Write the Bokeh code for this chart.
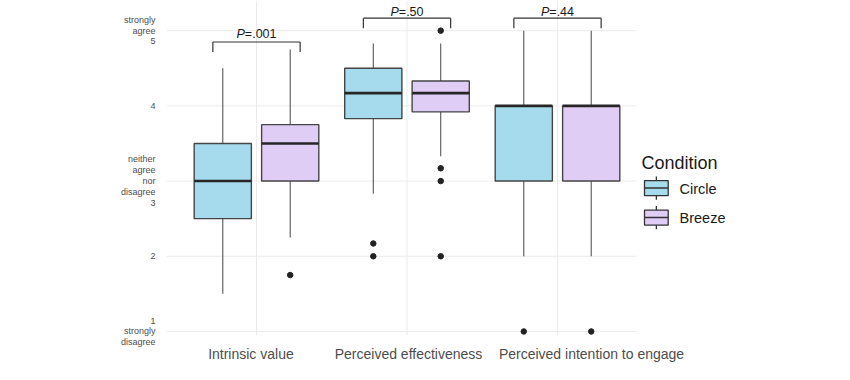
from bokeh.plotting import figure
from bokeh.models import Range1d, FixedTicker, ColumnDataSource
from bokeh.core.properties import value
from bokeh.embed import file_html
from bokeh.resources import INLINE

FONT = "Liberation Sans"

# ---------------- data ----------------
categories = ["Intrinsic value", "Perceived effectiveness", "Perceived intention to engage"]
conditions = ["Circle", "Breeze"]

circle_lower = [1.5, 2.83, 2.0]
circle_q1 = [2.5, 3.83, 3.0]
circle_median = [3.0, 4.17, 4.0]
circle_q3 = [3.5, 4.5, 4.0]
circle_upper = [4.5, 4.83, 5.0]
circle_outliers = [[], [2.17, 2.0], [1.0]]

breeze_lower = [2.25, 3.33, 2.0]
breeze_q1 = [3.0, 3.92, 3.0]
breeze_median = [3.5, 4.17, 4.0]
breeze_q3 = [3.75, 4.33, 4.0]
breeze_upper = [4.75, 4.83, 5.0]
breeze_outliers = [[1.75], [5.0, 3.17, 3.0, 2.0], [1.0]]

p_values = [".001", ".50", ".44"]
bracket_top = [4.849, 5.166, 5.166]
bracket_tick = [4.715, 5.032, 5.032]
p_text_y = [4.956, 5.25, 5.25]

y_ticks = [1, 2, 3, 4, 5]
y_tick_labels = ["1\nstrongly\ndisagree", "2", "neither\nagree\nnor\ndisagree\n3", "4", "strongly\nagree\n5"]

# ---------------- layout / style ----------------
W, H = 834, 364
LEFT = 166
PX_PER_X = 150.5
X0 = 0.402
X_PANEL_END = 3.525
X1 = X0 + (W - LEFT) / PX_PER_X
Y_TOP, Y_BOT = 5.401, 0.9465
FRAME_H = 333.0
PX_PER_Y = FRAME_H / (Y_TOP - Y_BOT)

def sx(px):  # screen px -> data x (legend layout only)
    return X0 + (px - LEFT) / PX_PER_X

def sy(py):  # screen px -> data y (legend layout only)
    return Y_TOP - py / PX_PER_Y

fills = {"Circle": "#a5dbec", "Breeze": "#e0cdf6"}
offsets = {"Circle": -0.224, "Breeze": 0.224}
label_shift = [-0.037, 0.01, 0.226]
box_w = 0.38
bracket_half = 0.29
outline = "#454545"
whisker_col = "#555555"
grid_col = "#ebebeb"

p = figure(width=W, height=H, x_range=Range1d(X0, X1), y_range=Range1d(Y_BOT, Y_TOP),
           output_backend="svg", toolbar_location=None,
           min_border_left=LEFT, min_border_right=0, min_border_top=0, min_border_bottom=0)
p.outline_line_color = None
p.background_fill_color = "white"
p.border_fill_color = "white"
p.grid.visible = False

xs = [i + 1 for i in range(len(categories))]
label_x = [x + s for x, s in zip(xs, label_shift)]
p.xaxis.ticker = FixedTicker(ticks=label_x)
p.xaxis.major_label_overrides = {x: c for x, c in zip(label_x, categories)}
p.yaxis.ticker = FixedTicker(ticks=y_ticks)
p.yaxis.major_label_overrides = {t: l for t, l in zip(y_ticks, y_tick_labels)}
for ax in (p.xaxis, p.yaxis):
    ax.axis_line_color = None
    ax.major_tick_line_color = None
    ax.minor_tick_line_color = None
    ax.major_label_text_font = FONT
    ax.major_label_text_color = "#4d4d4d"
p.xaxis.major_label_text_font_size = "14px"
p.xaxis.major_label_standoff = 4
p.yaxis.major_label_text_font_size = "9px"
p.yaxis.major_label_standoff = 5
p.yaxis.major_label_text_line_height = 1.08

# grid lines limited to the plotting panel
p.segment(x0=xs, y0=[Y_BOT] * len(xs), x1=xs, y1=[Y_TOP] * len(xs), line_color=grid_col, line_width=1)
p.segment(x0=[X0] * len(y_ticks), y0=y_ticks, x1=[X_PANEL_END] * len(y_ticks), y1=y_ticks,
          line_color=grid_col, line_width=1)

series = {
    "Circle": (circle_lower, circle_q1, circle_median, circle_q3, circle_upper, circle_outliers),
    "Breeze": (breeze_lower, breeze_q1, breeze_median, breeze_q3, breeze_upper, breeze_outliers),
}

for cond in conditions:
    lo, q1, med, q3, up, outs = series[cond]
    cx = [x + offsets[cond] for x in xs]
    src = ColumnDataSource(dict(x=cx, lo=lo, q1=q1, med=med, q3=q3, up=up,
                                x0=[x - box_w / 2 for x in cx], x1=[x + box_w / 2 for x in cx]))
    p.segment(x0="x", y0="q3", x1="x", y1="up", source=src, line_color=whisker_col, line_width=1.1)
    p.segment(x0="x", y0="q1", x1="x", y1="lo", source=src, line_color=whisker_col, line_width=1.1)
    p.vbar(x="x", width=box_w, bottom="q1", top="q3", source=src,
           fill_color=fills[cond], line_color=outline, line_width=1.4)
    p.segment(x0="x0", y0="med", x1="x1", y1="med", source=src, line_color="#262626", line_width=2.6)
    ox, oy = [], []
    for x, vals in zip(cx, outs):
        for v in vals:
            ox.append(x)
            oy.append(v)
    p.scatter(ox, oy, size=5.5, color="#222222")

# significance brackets
bx0 = [x - bracket_half for x in xs]
bx1 = [x + bracket_half for x in xs]
p.segment(x0=bx0, y0=bracket_top, x1=bx1, y1=bracket_top, line_color="#333333", line_width=1.2)
p.segment(x0=bx0, y0=bracket_top, x1=bx0, y1=bracket_tick, line_color="#333333", line_width=1.2)
p.segment(x0=bx1, y0=bracket_top, x1=bx1, y1=bracket_tick, line_color="#333333", line_width=1.2)

# P labels: italic "P" + regular rest, centred together
fs = 12.5
cw = {"=": 0.584, ".": 0.278, "0": 0.556, "1": 0.556, "4": 0.556, "5": 0.556}
wP = 0.667 * fs
xoffs = []
for pv in p_values:
    wr = sum(cw[c] for c in "=" + pv) * fs
    xoffs.append((wP - wr) / 2)
psrc = ColumnDataSource(dict(x=xs, y=p_text_y, pt=["P"] * 3, rest=["=" + v for v in p_values], xo=xoffs))
p.text(x="x", y="y", text="pt", x_offset="xo", source=psrc, text_align="right", text_baseline="alphabetic",
       text_font=value(FONT), text_font_style="italic", text_font_size=f"{fs}px", text_color="#1a1a1a")
p.text(x="x", y="y", text="rest", x_offset="xo", source=psrc, text_align="left", text_baseline="alphabetic",
       text_font=value(FONT), text_font_size=f"{fs}px", text_color="#1a1a1a")

# ---------------- legend ----------------
p.text(x=[sx(641)], y=[sy(161.5)], text=["Condition"], text_font=value(FONT), text_font_size="18px",
       text_color="#1a1a1a", text_baseline="alphabetic")
key_cy = [186.5, 215.8]
kx0, kx1 = 644.0, 667.7
kxc = (kx0 + kx1) / 2
for cond, cy in zip(conditions, key_cy):
    p.segment(x0=[sx(kxc)], y0=[sy(cy - 11.5)], x1=[sx(kxc)], y1=[sy(cy + 11.5)],
              line_color="#333333", line_width=1.3)
    p.quad(left=[sx(kx0)], right=[sx(kx1)], bottom=[sy(cy + 7.5)], top=[sy(cy - 7.5)],
           fill_color=fills[cond], line_color="#333333", line_width=1.3)
    p.segment(x0=[sx(kx0)], y0=[sy(cy)], x1=[sx(kx1)], y1=[sy(cy)], line_color="#333333", line_width=1.5)
    p.text(x=[sx(679)], y=[sy(cy + 0.5)], text=[cond], text_font=value(FONT), text_font_size="14.5px",
           text_color="#1a1a1a", text_baseline="middle")

open("out.html", "w").write(file_html(p, INLINE))
